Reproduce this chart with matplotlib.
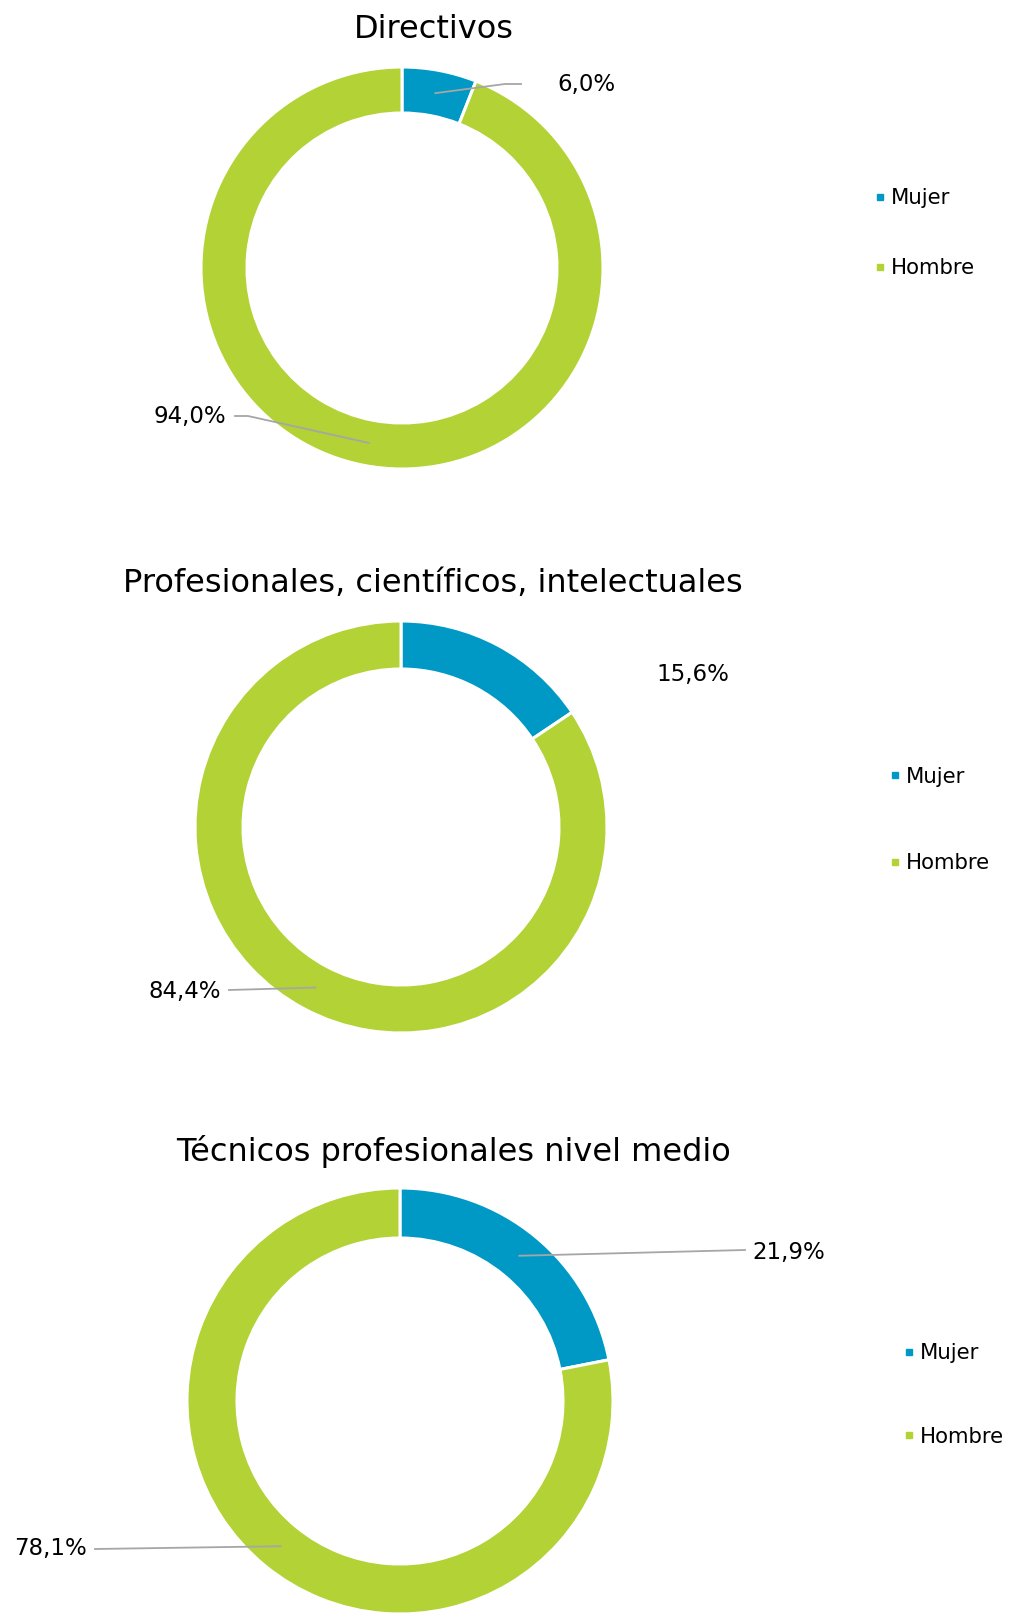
import matplotlib
matplotlib.use("Agg")
import matplotlib.pyplot as plt
from matplotlib.lines import Line2D
import numpy as np

plt.rcParams['font.family'] = ['DejaVu Sans']

titulos = ["Directivos",
           "Profesionales, científicos, intelectuales",
           "Técnicos profesionales nivel medio"]
categorias = ["Mujer", "Hombre"]
mujer = [6.0, 15.6, 21.9]
hombre = [94.0, 84.4, 78.1]

colores = ["#0099C6", "#B2D235"]
gris = "#A6A6A6"

W, H = 1017, 1618
fig = plt.figure(figsize=(W / 100, H / 100), dpi=100)


def fx(x):
    return x / W


def fy(y):
    return 1 - y / H


# centro, radio exterior, radio interior (px)
anillos = [((402, 268), 201, 155),
           ((401, 827), 206, 158),
           ((400, 1401), 213, 163)]
pos_titulo = [(434, 30), (433, 583), (453, 1151)]
pos_etiquetas = [[(586, 85), (190, 417)],
                 [(693, 675), (185, 991)],
                 [(789, 1252), (51, 1549)]]
lineas_guia = [[[(505, 84), (521, 84)], [(248, 416), (235, 416)]],
               [None, [(229, 990)]],
               [[(745, 1250)], [(95, 1549)]]]
pos_leyenda = [(874, 233), (889, 820), (903, 1395)]
espacio_leyenda = [2.35, 3.15, 3.0]

for i in range(3):
    (cx, cy), r_ext, r_int = anillos[i]
    ax = fig.add_axes([fx(cx - r_ext), fy(cy + r_ext), 2 * r_ext / W, 2 * r_ext / H])
    valores = [mujer[i], hombre[i]]
    cunas, _ = ax.pie(valores, colors=colores, startangle=90, counterclock=False,
                      radius=1, wedgeprops=dict(width=1 - r_int / r_ext,
                                                edgecolor="white", linewidth=2.2))
    ax.set_xlim(-1, 1)
    ax.set_ylim(-1, 1)
    ax.set_aspect("equal")
    ax.axis("off")

    fig.text(fx(pos_titulo[i][0]), fy(pos_titulo[i][1]), titulos[i],
             ha="center", va="center", fontsize=23, color="black")

    for j, w in enumerate(cunas):
        texto = f"{valores[j]:.1f}%".replace(".", ",")
        tx, ty = pos_etiquetas[i][j]
        fig.text(fx(tx), fy(ty), texto, ha="center", va="center",
                 fontsize=16.5, color="black")
        if lineas_guia[i][j] is None:
            continue
        ang = np.deg2rad((w.theta1 + w.theta2) / 2)
        rm = w.r - w.width / 2
        px, py = ax.transData.transform((rm * np.cos(ang), rm * np.sin(ang)))
        fxa, fya = fig.transFigure.inverted().transform((px, py))
        xs = [fxa] + [fx(p[0]) for p in lineas_guia[i][j]]
        ys = [fya] + [fy(p[1]) for p in lineas_guia[i][j]]
        fig.add_artist(Line2D(xs, ys, transform=fig.transFigure,
                              color=gris, linewidth=1.3))

    manejadores = [Line2D([], [], marker="s", linestyle="none", markersize=5,
                          color=c) for c in colores]
    lx, ly = pos_leyenda[i]
    ax.legend(manejadores, categorias, loc="center left",
              bbox_to_anchor=(fx(lx), fy(ly)), bbox_transform=fig.transFigure,
              frameon=False, fontsize=15.3, handlelength=0.6, handletextpad=0.2,
              labelspacing=espacio_leyenda[i], borderpad=0, borderaxespad=0)

fig.savefig("out.png", dpi=100, facecolor="white")
